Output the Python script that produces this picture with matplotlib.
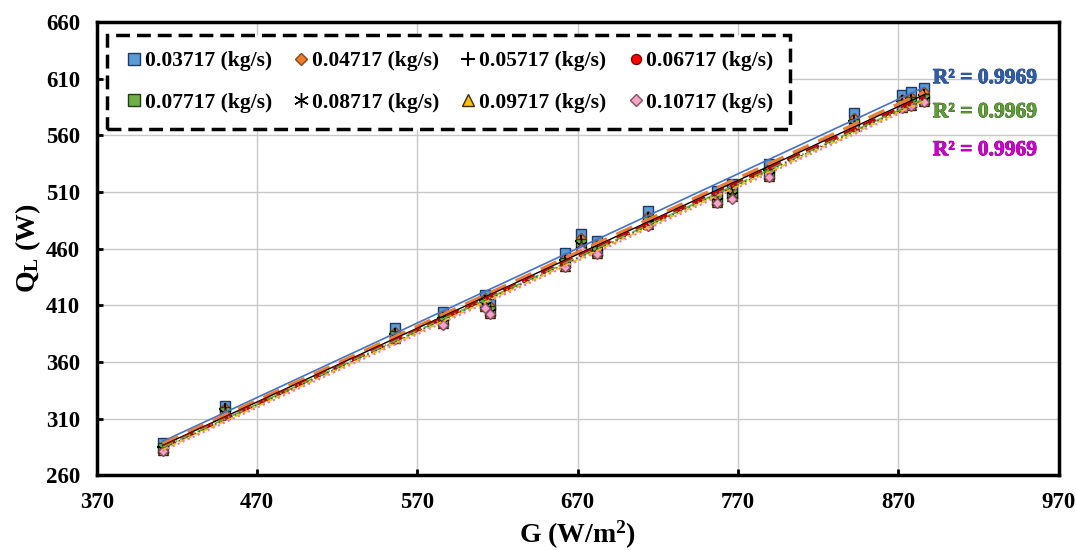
import numpy as np
import matplotlib
matplotlib.use('Agg')
import matplotlib.pyplot as plt
import matplotlib.patheffects as pe

plt.rcParams['font.family'] = 'Liberation Serif'
plt.rcParams['font.weight'] = 'bold'
plt.rcParams['mathtext.fontset'] = 'custom'
plt.rcParams['mathtext.rm'] = 'Liberation Serif:bold'
plt.rcParams['mathtext.it'] = 'Liberation Serif:bold'
plt.rcParams['mathtext.bf'] = 'Liberation Serif:bold'

# irradiance G (W/m2)
G = [411, 450, 556, 586, 612, 615, 662, 672, 682, 714, 757, 766, 789, 842, 872, 878, 886]

# useful heat Q_L (W) for each mass flow rate
q_03717 = [288, 321, 390, 404, 419, 411, 456, 473, 467, 493, 511, 517, 535, 580, 596, 598, 602]
q_04717 = [286, 319, 386, 401, 416, 409, 452, 469, 463, 489, 508, 513, 531, 575, 592, 594, 598]
q_05717 = [285, 318, 385, 399, 414, 407, 450, 467, 461, 487, 506, 511, 529, 573, 590, 592, 596]
q_06717 = [284, 317, 383, 397, 412, 405, 448, 465, 459, 485, 504, 509, 527, 571, 588, 590, 594]
q_07717 = [284, 316, 383, 396, 411, 405, 447, 464, 458, 484, 503, 508, 526, 570, 587, 589, 592]
q_08717 = [283, 315, 382, 395, 410, 404, 446, 463, 457, 483, 502, 507, 525, 569, 586, 588, 591]
q_09717 = [282, 314, 381, 394, 409, 403, 445, 462, 456, 482, 501, 506, 524, 568, 585, 587, 590]
q_10717 = [281, 313, 380, 393, 408, 402, 444, 460, 455, 480, 500, 504, 523, 567, 584, 586, 589]

labels = ['0.03717 (kg/s)', '0.04717 (kg/s)', '0.05717 (kg/s)', '0.06717 (kg/s)',
          '0.07717 (kg/s)', '0.08717 (kg/s)', '0.09717 (kg/s)', '0.10717 (kg/s)']
series = [q_03717, q_04717, q_05717, q_06717, q_07717, q_08717, q_09717, q_10717]

styles = [
    dict(marker='s', mfc='#5B9BD5', mec='#1F3864', ms=7),
    dict(marker='D', mfc='#ED7D31', mec='#8B4513', ms=5),
    dict(marker='+', mfc='black', mec='black', ms=8, mew=1.5),
    dict(marker='o', mfc='#FF0000', mec='#7F0000', ms=6),
    dict(marker='s', mfc='#70AD47', mec='#1E3D10', ms=7),
    dict(marker=(6, 2, 0), mfc='black', mec='black', ms=9, mew=1.0),
    dict(marker='^', mfc='#FFC000', mec='#3A2A00', ms=7),
    dict(marker='D', mfc='#F4A6C6', mec='#8B4A66', ms=5),
]
trend = [
    ('#4472C4', '-', 1.2),
    ('#ED7D31', (0, (5, 3)), 2.5),
    ('black', '-', 1.0),
    ('#C00000', (0, (4, 2)), 2.5),
    ('#70AD47', '-.', 1.3),
    ('#404040', ':', 1.2),
    ('#FFC000', '--', 1.2),
    ('#E377C2', ':', 1.5),
]

fig = plt.figure(figsize=(10.76, 5.5), dpi=100)
ax = fig.add_axes([0.090, 0.136, 0.894, 0.824])

g = np.array(G)
gx = np.linspace(g.min(), g.max(), 50)
handles = []
for q, lab, st, (tc, tls, tlw) in zip(series, labels, styles, trend):
    h, = ax.plot(G, q, linestyle='none', label=lab, zorder=3, **st)
    handles.append(h)
    k, b = np.polyfit(g, np.array(q), 1)
    ax.plot(gx, k * gx + b, color=tc, linestyle=tls, linewidth=tlw, zorder=4)

ax.set_xlim(370, 970)
ax.set_ylim(260, 660)
ax.set_xticks(np.arange(370, 971, 100))
ax.set_yticks(np.arange(260, 661, 50))
ax.grid(True, color='#C8C8C8', linewidth=1.0)
ax.set_axisbelow(True)
for s in ax.spines.values():
    s.set_linewidth(2.5)
ax.tick_params(direction='in', length=4, width=2, labelsize=16.5, pad=12)
for t in ax.get_xticklabels() + ax.get_yticklabels():
    t.set_fontweight('bold')

ax.set_xlabel(r'G (W/m$^{2}$)', fontsize=20, fontweight='bold', labelpad=4)
ax.set_ylabel(r'Q$_{L}$ (W)', fontsize=20, fontweight='bold', labelpad=2)

r2 = [('R² = 0.9969', '#2E5EA8', '#1F3864', 0.876),
      ('R² = 0.9969', '#5E9E35', '#2E5016', 0.801),
      ('R² = 0.9969', '#CC00CC', '#800080', 0.717)]
for txt, c, ec, yy in r2:
    ax.text(0.869, yy, txt, transform=ax.transAxes, fontsize=15.5, fontweight='bold',
            color=c, va='center', ha='left',
            path_effects=[pe.withStroke(linewidth=0.6, foreground=ec)])

# row-wise legend order
order = [0, 4, 1, 5, 2, 6, 3, 7]
leg = ax.legend([handles[i] for i in order], [labels[i] for i in order],
                ncol=4, loc='upper left', bbox_to_anchor=(0.0104, 0.971, 0.71, 0.0),
                mode='expand', fontsize=15.5, handletextpad=0.0, columnspacing=0.8,
                handlelength=1.0, borderaxespad=0, fancybox=False, framealpha=1,
                labelspacing=1.0, markerscale=1.2, borderpad=0.75)
fr = leg.get_frame()
fr.set_edgecolor('black')
fr.set_linewidth(2.5)
fr.set_linestyle((0, (4, 2)))
for t in leg.get_texts():
    t.set_fontweight('bold')

fig.savefig('out.png', dpi=100)
